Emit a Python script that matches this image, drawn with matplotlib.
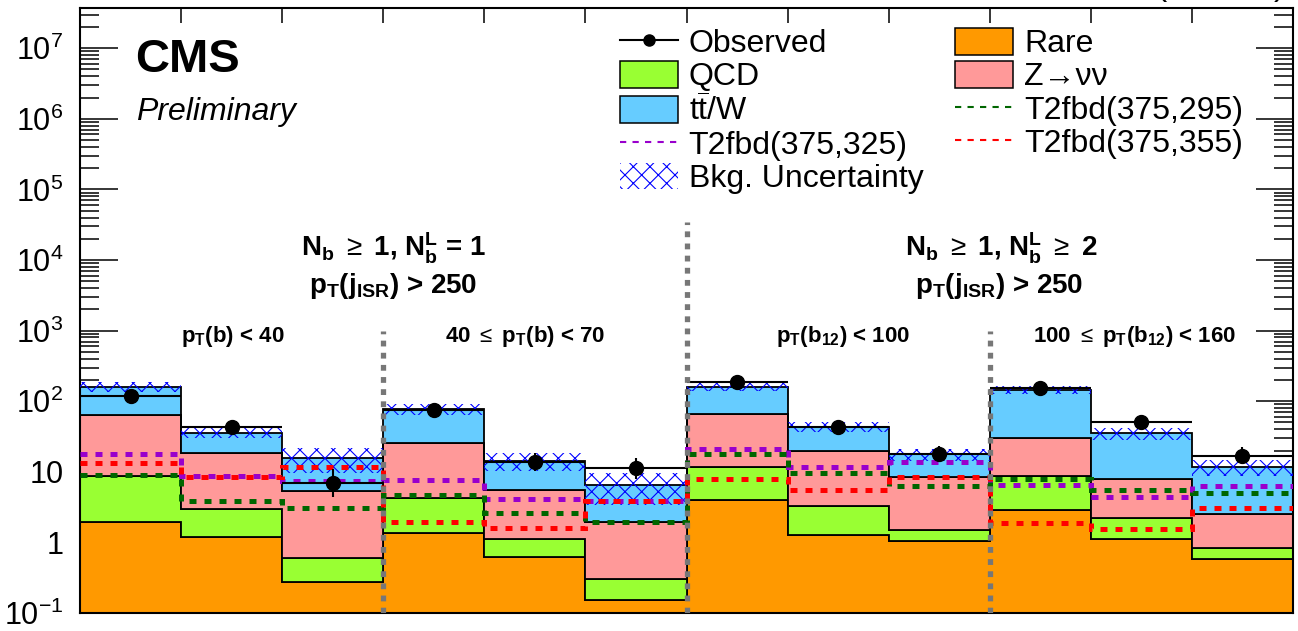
import numpy as np
import matplotlib
matplotlib.use("Agg")
import matplotlib.pyplot as plt
from matplotlib.patches import Patch
from matplotlib.lines import Line2D

plt.rcParams['font.family'] = ['Liberation Sans', 'DejaVu Sans']
plt.rcParams['mathtext.fontset'] = 'custom'
plt.rcParams['mathtext.rm'] = 'Liberation Sans'
plt.rcParams['mathtext.it'] = 'Liberation Sans:italic'
plt.rcParams['mathtext.bf'] = 'Liberation Sans:bold'
plt.rcParams['hatch.linewidth'] = 0.8

# 12 search bins, yields
edges = np.arange(13)
rare = [1.93, 1.18, 0.27, 1.37, 0.615, 0.15, 4.0, 1.27, 1.06, 2.88, 1.12, 0.59]
qcd = [6.7, 1.79, 0.34, 2.93, 0.5, 0.15, 7.6, 2.0, 0.44, 5.9, 1.12, 0.25]
znunu = [55, 15.6, 4.7, 21.0, 4.4, 1.67, 54, 16.4, 7.0, 21.6, 5.6, 1.68]
ttw = [97, 17.2, 10.2, 52, 8.7, 4.5, 95, 24, 9.2, 114, 27.3, 9.3]
bkg_unc = [0.15, 0.15, 0.38, 0.17, 0.28, 0.48, 0.14, 0.17, 0.2, 0.12, 0.2, 0.25]

observed = [120, 42.7, 7.0, 75, 13.9, 11.3, 185, 43.6, 17.9, 152, 50.7, 16.9]
obs_err_lo = [11, 6.5, 2.6, 8.7, 3.7, 3.3, 13.6, 6.6, 4.2, 12.3, 7.1, 4.1]
obs_err_hi = [12, 7.5, 3.8, 9.7, 4.8, 4.4, 14.6, 7.6, 5.3, 13.3, 8.1, 5.2]

sig_295 = [9.0, 3.8, 3.04, 4.7, 2.64, 1.92, 17.9, 9.7, 6.2, 7.9, 5.5, 5.0]
sig_325 = [17.9, 8.8, 7.5, 7.7, 4.16, 3.9, 20.8, 11.8, 13.9, 6.6, 4.4, 6.3]
sig_355 = [13.2, 8.4, 11.8, 1.97, 1.62, 3.9, 7.9, 5.5, 8.5, 1.9, 1.57, 3.1]

divider_x = [3, 6, 9]
divider_top = [1000, 3.5e4, 1000]

W, H = 1298, 631
fig = plt.figure(figsize=(W / 100, H / 100), dpi=100)
ax = fig.add_axes([80 / W, 1 - 613 / H, (1293 - 80) / W, (613 - 8) / H])

# stacked backgrounds
components = [(rare, '#FF9900'), (qcd, '#99FF33'), (znunu, '#FF9999'), (ttw, '#66CCFF')]
bottom = np.full(12, 1e-3)
for vals, col in components:
    top = bottom + np.array(vals)
    ax.stairs(top, edges, baseline=bottom, fill=True, facecolor=col,
              edgecolor='k', linewidth=1.3, zorder=2)
    bottom = top
total = bottom

# background uncertainty band
unc = total * np.array(bkg_unc)
ax.bar(edges[:-1], 2 * unc, bottom=total - unc, width=1, align='edge',
       facecolor='none', edgecolor='blue', hatch='xx', linewidth=0, zorder=3)

# signal models
dash = (0, (1.4, 1.6))
ax.stairs(sig_325, edges, baseline=None, color='#9900CC', linewidth=3.6, linestyle=dash, zorder=4)
ax.stairs(sig_295, edges, baseline=None, color='#006600', linewidth=3.6, linestyle=dash, zorder=4)
ax.stairs(sig_355, edges, baseline=None, color='#FF0000', linewidth=3.6, linestyle=dash, zorder=4)

# data
centers = edges[:-1] + 0.5
ax.errorbar(centers, observed, xerr=0.5, yerr=[obs_err_lo, obs_err_hi], fmt='o',
            color='k', markersize=10, elinewidth=1.5, capsize=0, zorder=5)

for x, yt in zip(divider_x, divider_top):
    ax.plot([x, x], [0.1, yt], color='#777777', linewidth=3.8,
            linestyle=(0, (1.1, 1.2)), zorder=6, solid_capstyle='butt')

ax.set_yscale('log')
ax.set_xlim(0, 12)
ax.set_ylim(0.1, 10 ** 7.57)
ax.set_xticks(edges)
ax.set_yticks([1e-1, 1, 10, 1e2, 1e3, 1e4, 1e5, 1e6, 1e7],
              ['$10^{-1}$', '1', '10', '$10^{2}$', '$10^{3}$', '$10^{4}$',
               '$10^{5}$', '$10^{6}$', '$10^{7}$'])
ax.tick_params(axis='both', which='both', direction='in', top=True, right=True,
               labelbottom=False, width=1.1)
ax.tick_params(axis='x', length=11)
ax.tick_params(axis='y', which='major', length=27, labelsize=22, pad=12)
ax.tick_params(axis='y', which='minor', length=14)
for s in ax.spines.values():
    s.set_linewidth(1.5)

# legend
handles = [
    Line2D([], [], color='k', marker='o', markersize=8, linewidth=1.5),
    Patch(facecolor='#99FF33', edgecolor='k', linewidth=1.1),
    Patch(facecolor='#66CCFF', edgecolor='k', linewidth=1.1),
    Line2D([], [], color='#9900CC', linestyle=(0, (3, 3)), linewidth=1.5),
    Patch(facecolor='none', edgecolor='blue', hatch='xx', linewidth=0),
    Patch(facecolor='#FF9900', edgecolor='k', linewidth=1.1),
    Patch(facecolor='#FF9999', edgecolor='k', linewidth=1.1),
    Line2D([], [], color='#006600', linestyle=(0, (3, 3)), linewidth=1.5),
    Line2D([], [], color='#FF0000', linestyle=(0, (3, 3)), linewidth=1.5),
]
labels = ['Observed', 'QCD', r'$\mathrm{t\overline{t}}$/W', 'T2fbd(375,325)', 'Bkg. Uncertainty',
          'Rare', 'Z\u2192\u03bd\u03bd', 'T2fbd(375,295)', 'T2fbd(375,355)']
ax.legend(handles, labels, ncol=2, loc='upper left', bbox_to_anchor=(620 / W, 1 - 28 / H),
          bbox_transform=fig.transFigure, frameon=False, fontsize=23,
          handlelength=1.8, handleheight=0.9, handletextpad=0.35, columnspacing=1.0,
          labelspacing=0.06, borderpad=0, borderaxespad=0)

fig.text(135 / W, 1 - 72 / H, 'CMS', fontsize=34, fontweight='bold', va='baseline')
fig.text(136 / W, 1 - 120 / H, 'Preliminary', fontsize=23, style='italic', va='baseline')
fig.text(1285 / W, 1 + 4 / H, r'35.9 fb$^{-1}$ (13 TeV)', fontsize=24, ha='right', va='baseline')

cut_texts = [
    (393, 257, r'N$_\mathbf{b}$ $\geq$ 1, N$_\mathbf{b}^\mathbf{L}$ = 1', 20),
    (393, 293, r'p$_\mathbf{T}$(j$_\mathbf{ISR}$) > 250', 20),
    (1001, 257, r'N$_\mathbf{b}$ $\geq$ 1, N$_\mathbf{b}^\mathbf{L}$ $\geq$ 2', 20),
    (999, 293, r'p$_\mathbf{T}$(j$_\mathbf{ISR}$) > 250', 20),
    (233, 342, r'p$_\mathbf{T}$(b) < 40', 16),
    (525, 342, r'40 $\leq$ p$_\mathbf{T}$(b) < 70', 16),
    (843, 342, r'p$_\mathbf{T}$(b$_\mathbf{12}$) < 100', 16),
    (1135, 342, r'100 $\leq$ p$_\mathbf{T}$(b$_\mathbf{12}$) < 160', 16),
]
for x, y, s, fs in cut_texts:
    fig.text(x / W, 1 - y / H, s, fontsize=fs, fontweight='bold', ha='center', va='baseline')

fig.savefig('out.png', dpi=100)
